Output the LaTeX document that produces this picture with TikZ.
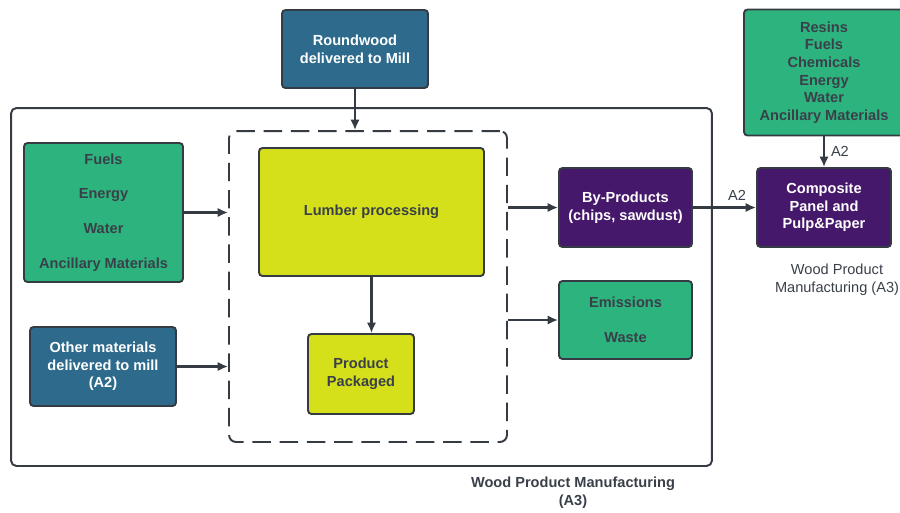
\documentclass[tikz,border=0pt]{standalone}
\usepackage{fontspec}
\setmainfont{Liberation Sans}
\usetikzlibrary{arrows.meta}

\definecolor{boxblue}{HTML}{2D6A8B}
\definecolor{boxgreen}{HTML}{2DB37E}
\definecolor{boxyellow}{HTML}{D6E01A}
\definecolor{boxpurple}{HTML}{46186B}
\definecolor{edgegray}{HTML}{353B42}
\definecolor{txtgray}{HTML}{3A4049}

\begin{document}
\begin{tikzpicture}[x=0.02cm,y=-0.02cm,line width=1.1pt,>={Latex[length=2.1mm,width=1.9mm]},
  every node/.style={font=\fontsize{8.3}{10}\selectfont},
  blk/.style={draw=edgegray,rounded corners=2pt,align=center,font=\bfseries\fontsize{8.3}{10}\selectfont},
  blueblk/.style={blk,fill=boxblue,text=white},
  greenblk/.style={blk,fill=boxgreen,text=txtgray},
  yellowblk/.style={blk,fill=boxyellow,text=txtgray},
  purpleblk/.style={blk,fill=boxpurple,text=white},
  flow/.style={->,draw=edgegray,line width=1.3pt}]
  \useasboundingbox (0,0) rectangle (900,512);
  % frames
  \node[draw=edgegray,rounded corners=3pt,minimum width=14.02cm,minimum height=7.16cm] (frame) at (361.5,287) {};
  \node[draw=edgegray,dash pattern=on 10.5pt off 5pt,rounded corners=4pt,minimum width=5.56cm,minimum height=6.22cm] (mill) at (368,286.5) {};
  % blocks
  \node[blueblk,minimum width=2.92cm,minimum height=1.56cm] (round) at (355,49) {Roundwood\\delivered to Mill};
  \node[greenblk,minimum width=3.18cm,minimum height=2.78cm] (fuels) at (103.5,212.5) {Fuels\\[9.8pt]Energy\\[9.8pt]Water\\[9.8pt]Ancillary Materials};
  \node[blueblk,minimum width=2.92cm,minimum height=1.58cm] (other) at (103,366.5) {Other materials\\delivered to mill\\(A2)};
  \node[yellowblk,minimum width=4.5cm,minimum height=2.56cm] (lumber) at (371.5,212) {Lumber processing};
  \node[yellowblk,minimum width=2.12cm,minimum height=1.6cm] (pack) at (361,374) {Product\\Packaged};
  \node[purpleblk,minimum width=2.66cm,minimum height=1.58cm] (byprod) at (625.5,207.5) {By-Products\\(chips, sawdust)};
  \node[greenblk,minimum width=2.66cm,minimum height=1.56cm] (emis) at (625.5,320) {Emissions\\[9.8pt]Waste};
  \node[purpleblk,minimum width=2.68cm,minimum height=1.58cm] (comp) at (824,207.5) {Composite\\Panel and\\Pulp\&Paper};
  \node[greenblk,minimum width=3.2cm,minimum height=2.52cm] (resins) at (824,72.5) {Resins\\Fuels\\Chemicals\\Energy\\Water\\Ancillary Materials};
  % connectors
  \draw[flow] (round.south) -- (round.south |- mill.north);
  \draw[flow] (fuels.east) -- (fuels.east -| mill.west);
  \draw[flow] (other.east) -- (other.east -| mill.west);
  \draw[flow] (lumber.south) -- (lumber.south |- pack.north);
  \draw[flow] (byprod.west -| mill.east) -- (byprod.west);
  \draw[flow] (emis.west -| mill.east) -- (emis.west);
  \draw[flow] (byprod.east) -- node[above,pos=0.7,text=txtgray] (a2x) {A2} (comp.west);
  \draw[flow] (resins.south) -- node[right,text=txtgray] (a2y) {A2} (comp.north);
  % captions
  \node[align=center,text=txtgray,font=\bfseries\fontsize{8.3}{10}\selectfont] (capmill) at (573,493) {Wood Product Manufacturing\\(A3)};
  \node[align=center,text=txtgray] (capcomp) at (837,280) {Wood Product\\Manufacturing (A3)};
\end{tikzpicture}
\end{document}
